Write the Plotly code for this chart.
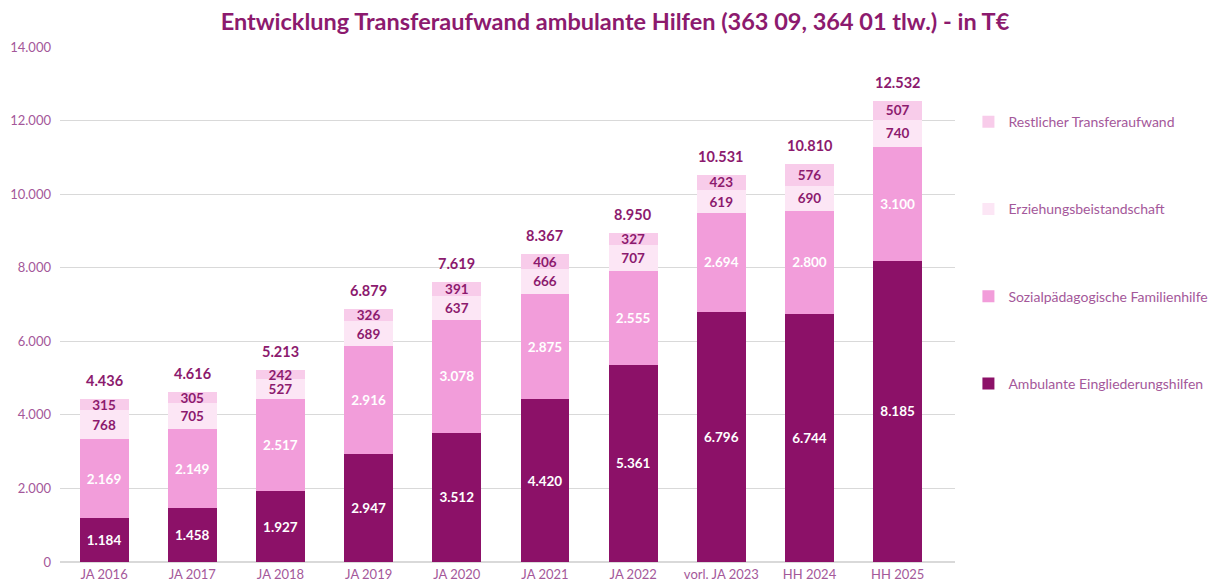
import plotly.graph_objects as go

categories = ["JA 2016", "JA 2017", "JA 2018", "JA 2019", "JA 2020", "JA 2021",
              "JA 2022", "vorl. JA 2023", "HH 2024", "HH 2025"]
ambulante = [1184, 1458, 1927, 2947, 3512, 4420, 5361, 6796, 6744, 8185]
sozial = [2169, 2149, 2517, 2916, 3078, 2875, 2555, 2694, 2800, 3100]
erziehung = [768, 705, 527, 689, 637, 666, 707, 619, 690, 740]
restlich = [315, 305, 242, 326, 391, 406, 327, 423, 576, 507]
totals = [4436, 4616, 5213, 6879, 7619, 8367, 8950, 10531, 10810, 12532]

DARK = "#8C1168"
MID = "#F29DDA"
LIGHT = "#FCE6F5"
REST = "#F8CCEA"
TXT = "#8C1A6E"
AX = "#A4589A"
FONT = "Lato"

series = [
    ("Ambulante Eingliederungshilfen", ambulante, DARK, "white", 4),
    ("Sozialpädagogische Familienhilfe", sozial, MID, "white", 3),
    ("Erziehungsbeistandschaft", erziehung, LIGHT, TXT, 2),
    ("Restlicher Transferaufwand", restlich, REST, TXT, 1),
]

fig = go.Figure()
for name, vals, col, tcol, rank in series:
    fig.add_trace(go.Bar(
        x=categories, y=vals, name=name, legendgroup=name, legendrank=rank,
        marker=dict(color=col, line=dict(width=0)),
        width=0.555,
        texttemplate="%{y:,}", textposition="inside", insidetextanchor="middle",
        textfont=dict(color=tcol, size=13.5, family=FONT, weight="bold"),
        constraintext="none",
        hoverinfo="skip",
    ))

for cat, tot in zip(categories, totals):
    fig.add_annotation(
        x=cat, y=tot, text=f"{tot:,}".replace(",", "."), showarrow=False,
        yanchor="bottom", yshift=8,
        font=dict(color=TXT, size=14.5, family=FONT, weight="bold"),
    )

fig.update_layout(
    width=1230, height=588,
    barmode="stack",
    separators=",.",
    plot_bgcolor="white", paper_bgcolor="white",
    margin=dict(l=52, r=283, t=39, b=34, autoexpand=False),
    font=dict(family=FONT, color=AX, size=13),
    title=dict(text="<b>Entwicklung Transferaufwand ambulante Hilfen (363 09, 364 01 tlw.) - in T€</b>",
               x=0.4935, xref="container", xanchor="center", y=0.99, yanchor="top",
               font=dict(size=23.5, color=TXT, family=FONT)),
    xaxis=dict(showgrid=False, showline=True, linecolor="#D9D9D9", linewidth=1,
               range=[-0.5, 9.65], automargin=False,
               ticks="", tickfont=dict(color=AX, size=13)),
    yaxis=dict(range=[0, 14000], dtick=2000, tickformat=",", showgrid=True,
               gridcolor="#D9D9D9", zeroline=True, zerolinecolor="#D9D9D9",
               automargin=False,
               ticks="", tickfont=dict(color=AX, size=13), ticklabelstandoff=8),
    legend=dict(x=1.015, xanchor="left", y=0.885, yanchor="top",
                traceorder="grouped", tracegroupgap=66,
                font=dict(size=14, color=AX, family=FONT),
                itemwidth=30),
)

fig.write_html("out.html")
